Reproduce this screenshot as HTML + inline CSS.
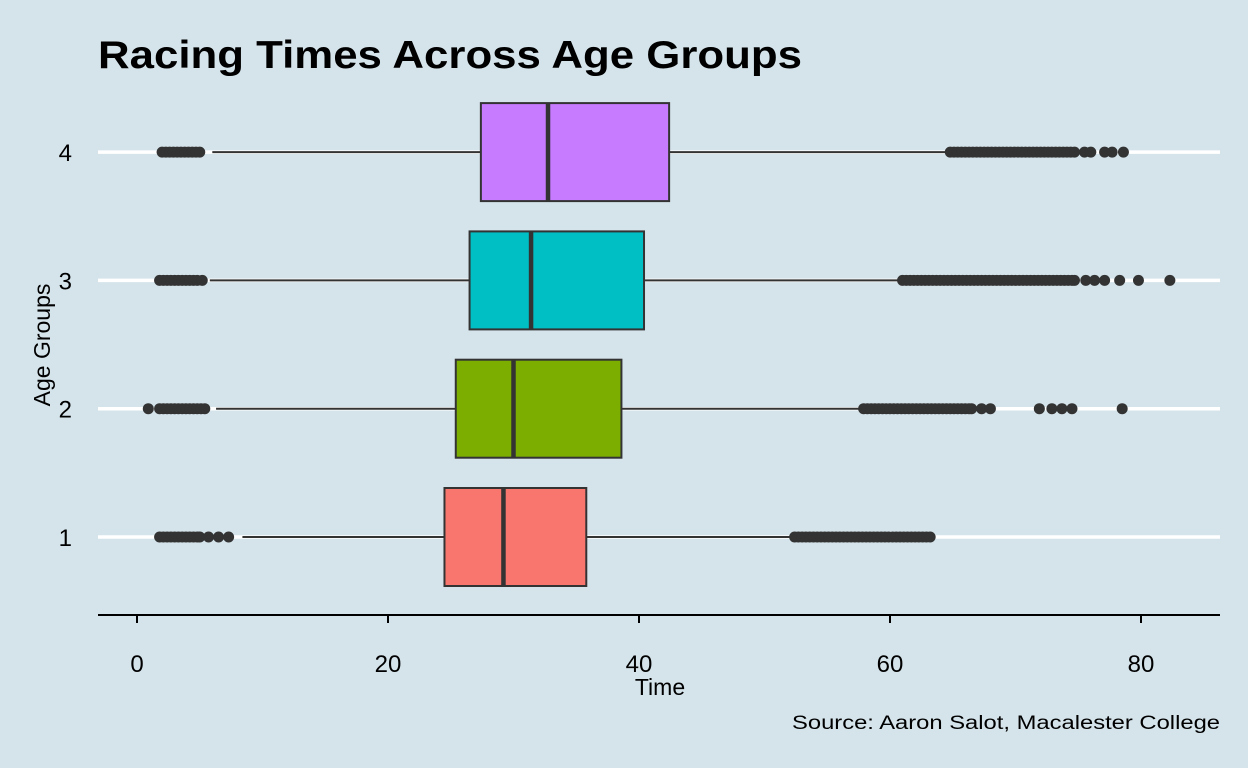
<!DOCTYPE html>
<html><head><meta charset="utf-8"><style>
body{margin:0;background:#d5e4eb;}
svg{display:block;font-family:"Liberation Sans",sans-serif;}
</style></head><body>
<svg id="chart" width="1248" height="768">
<rect width="1248" height="768" fill="#d5e4eb"/>
<text x="98" y="68" font-size="39" font-weight="bold" fill="#000" textLength="704" lengthAdjust="spacingAndGlyphs">Racing Times Across Age Groups</text>
<g id="grid"></g>
<g id="boxes"></g>
<line x1="98" y1="615" x2="1220" y2="615" stroke="#000" stroke-width="2"/>
<g id="xticks"></g>
<g id="ylabels"></g>
<text x="660" y="695" font-size="23" text-anchor="middle">Time</text>
<text transform="translate(50,345) rotate(-90)" font-size="23" text-anchor="middle">Age Groups</text>
<text x="1220" y="729" font-size="19" text-anchor="end" textLength="428" lengthAdjust="spacingAndGlyphs">Source: Aaron Salot, Macalester College</text>
</svg>
<script>
const groups=["1","2","3","4"];
const q1=[24.5,25.4,26.5,27.4];
const med=[29.2,30.0,31.4,32.75];
const q3=[35.8,38.6,40.4,42.4];
const wLo=[8.4,6.3,5.8,6.0];
const wHi=[52.5,57.8,61.0,64.6];
const colors=["#F8766D","#7CAE00","#00BFC4","#C77CFF"];
const xTicks=[0,20,40,60,80];
const outliers1=[1.8,2.1,2.4,2.7,3.0,3.3,3.6,3.9,4.2,4.5,4.8,5.0,5.7,6.5,7.3,52.4,52.7,53.0,53.3,53.6,53.9,54.2,54.5,54.8,55.1,55.4,55.7,56.0,56.3,56.6,56.9,57.2,57.5,57.8,58.1,58.4,58.7,59.0,59.3,59.6,59.9,60.2,60.5,60.8,61.1,61.4,61.7,62.0,62.3,62.6,62.9,63.2];
const outliers2=[0.9,1.8,2.1,2.4,2.7,3.0,3.3,3.6,3.9,4.2,4.5,4.8,5.1,5.4,57.9,58.2,58.5,58.8,59.1,59.4,59.7,60.0,60.3,60.6,60.9,61.2,61.5,61.8,62.1,62.4,62.7,63.0,63.3,63.6,63.9,64.2,64.5,64.8,65.1,65.4,65.7,66.0,66.3,66.5,67.3,68.0,71.9,72.9,73.7,74.5,78.5];
const outliers3=[1.8,2.1,2.4,2.7,3.0,3.3,3.6,3.9,4.2,4.5,4.8,5.2,61.0,61.3,61.6,61.9,62.2,62.5,62.8,63.1,63.4,63.7,64.0,64.3,64.6,64.9,65.2,65.5,65.8,66.1,66.4,66.7,67.0,67.3,67.6,67.9,68.2,68.5,68.8,69.1,69.4,69.7,70.0,70.3,70.6,70.9,71.2,71.5,71.8,72.1,72.4,72.7,73.0,73.3,73.6,73.9,74.2,74.5,74.7,75.6,76.3,77.1,78.3,79.8,82.3];
const outliers4=[2.0,2.3,2.6,2.9,3.2,3.5,3.8,4.1,4.4,4.7,5.0,64.8,65.1,65.4,65.7,66.0,66.3,66.6,66.9,67.2,67.5,67.8,68.1,68.4,68.7,69.0,69.3,69.6,69.9,70.2,70.5,70.8,71.1,71.4,71.7,72.0,72.3,72.6,72.9,73.2,73.5,73.8,74.1,74.4,74.7,75.5,76.0,77.1,77.7,78.6];
const outliers=[outliers1,outliers2,outliers3,outliers4];
const NS="http://www.w3.org/2000/svg";
const x=v=>137+v*12.55;
const y=i=>537-i*128.3;
function mk(tag,attrs,parent){const e=document.createElementNS(NS,tag);for(const k in attrs)e.setAttribute(k,attrs[k]);document.getElementById(parent).appendChild(e);return e;}
groups.forEach((g,i)=>{
 const yy=y(i);
 let e=mk('line',{x1:98,x2:1220,y1:yy,y2:yy,stroke:'#fff','stroke-width':3.5},'grid');
 
 
 e=mk('text',{x:72,y:yy+9,'font-size':24,'text-anchor':'end'},'ylabels');e.textContent=g;
 
 
 e=mk('line',{x1:x(wLo[i]),x2:x(q1[i]),y1:yy,y2:yy,stroke:'#333','stroke-width':2},'boxes');
 
 
 e=mk('line',{x1:x(q3[i]),x2:x(wHi[i]),y1:yy,y2:yy,stroke:'#333','stroke-width':2},'boxes');
 
 
 e=mk('rect',{x:x(q1[i]),y:yy-49,width:x(q3[i])-x(q1[i]),height:98,fill:colors[i],stroke:'#333','stroke-width':2},'boxes');
 
 
 e=mk('line',{x1:x(med[i]),x2:x(med[i]),y1:yy-49,y2:yy+49,stroke:'#333','stroke-width':4.5},'boxes');
 
 
 outliers[i].forEach(v=>{
  const c=mk('circle',{cx:x(v),cy:yy,r:5.5,fill:'#333'},'boxes');
  
  
 });
});
xTicks.forEach(t=>{
 let e=mk('line',{x1:x(t),x2:x(t),y1:615,y2:623,stroke:'#000','stroke-width':2},'xticks');
 
 
 e=mk('text',{x:x(t),y:672,'font-size':24,'text-anchor':'middle'},'xticks');e.textContent=t;
 
 
});
</script>
</body></html>
